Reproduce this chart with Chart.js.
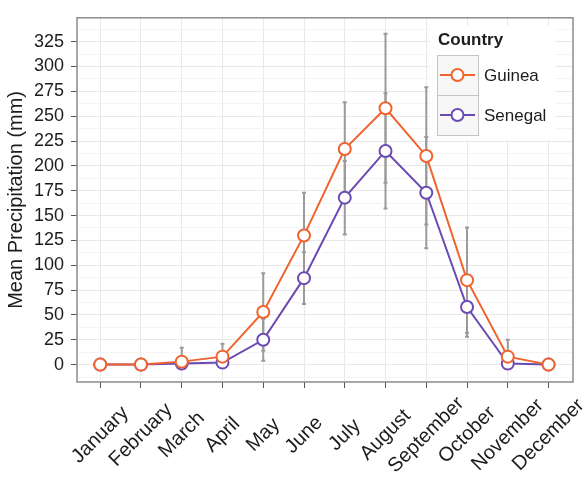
<!DOCTYPE html>
<html lang="en">
<head>
<meta charset="UTF-8">
<title>Mean Precipitation by Month</title>
<script src="https://cdn.jsdelivr.net/npm/chart.js"></script>
<style>
  body { margin: 0; background: #ffffff; }
  canvas { display: block; }
</style>
</head>
<body>
<canvas id="precipChart" width="585" height="479"></canvas>
<script>
// data
const months = ['January', 'February', 'March', 'April', 'May', 'June',
                'July', 'August', 'September', 'October', 'November', 'December'];
const guinea     = [0, 0, 3, 8, 53, 130, 217, 258, 210, 85, 8, 0];
const guineaErr  = [0, 0, 14, 13, 39, 43, 47, 75, 69, 53, 17, 0];
const senegal    = [0, 0, 1, 2, 25, 87, 168, 215, 173, 58, 1, 0];
const senegalErr = [0, 0, 1, 1, 21, 26, 37, 58, 56, 30, 2, 0];
const yMajor = [0, 25, 50, 75, 100, 125, 150, 175, 200, 225, 250, 275, 300, 325];

const GUINEA_COL = '#f0632e';
const SENEGAL_COL = '#6b4ab3';
const TEXT_COL = '#1c1c1c';
const FONT = "'Liberation Sans', Arial, sans-serif";

// major + minor (half-step) y ticks, like ggplot's grid
const yTicks = [];
yMajor.forEach(v => { yTicks.push(v - 12.5); yTicks.push(v); });
yTicks.push(337.5);

const toPts = arr => arr.map((v, i) => ({ x: i, y: v }));

// gray error bars behind the lines
const errorBars = {
    id: 'errorBars',
    beforeDatasetsDraw(chart) {
        const { ctx, scales: { x, y }, chartArea } = chart;
        const sets = [[guinea, guineaErr], [senegal, senegalErr]];
        ctx.save();
        ctx.beginPath();
        ctx.rect(chartArea.left, chartArea.top, chartArea.right - chartArea.left, chartArea.bottom - chartArea.top);
        ctx.clip();
        ctx.strokeStyle = '#9a9a9a';
        ctx.lineWidth = 2;
        sets.forEach(([vals, errs]) => {
            vals.forEach((v, i) => {
                if (!errs[i]) return;
                const px = x.getPixelForValue(i);
                const top = y.getPixelForValue(v + errs[i]);
                const bot = y.getPixelForValue(Math.max(v - errs[i], 0));
                ctx.beginPath();
                ctx.moveTo(px, top); ctx.lineTo(px, bot);
                ctx.moveTo(px - 2, top); ctx.lineTo(px + 2, top);
                ctx.moveTo(px - 2, bot); ctx.lineTo(px + 2, bot);
                ctx.stroke();
            });
        });
        ctx.restore();
    }
};

// month labels: rotated 45 deg and centred on the tick (ggplot hjust = 0.5)
const monthLabels = {
    id: 'monthLabels',
    afterDraw(chart) {
        const { ctx, scales: { x } } = chart;
        ctx.save();
        ctx.fillStyle = TEXT_COL;
        ctx.font = '20px ' + FONT;
        ctx.textAlign = 'center';
        ctx.textBaseline = 'middle';
        months.forEach((m, i) => {
            ctx.save();
            ctx.translate(x.getPixelForValue(i), 435);
            ctx.rotate(-Math.PI / 4);
            ctx.fillText(m, 0, 0);
            ctx.restore();
        });
        ctx.restore();
    }
};

// panel border + ggplot style legend inside the panel
const panelAndLegend = {
    id: 'panelAndLegend',
    afterDraw(chart) {
        const { ctx, chartArea: a } = chart;
        ctx.save();
        ctx.strokeStyle = '#8c8c8c';
        ctx.lineWidth = 1.5;
        ctx.strokeRect(a.left, a.top, a.right - a.left, a.bottom - a.top);

        // legend
        const lx = 430, ly = 26;
        ctx.fillStyle = '#ffffff';
        ctx.fillRect(lx, ly, 125, 114);
        ctx.fillStyle = TEXT_COL;
        ctx.font = 'bold 17px ' + FONT;
        ctx.textBaseline = 'middle';
        ctx.textAlign = 'left';
        ctx.fillText('Country', 438, 40);

        const items = [['Guinea', GUINEA_COL], ['Senegal', SENEGAL_COL]];
        items.forEach(([label, col], k) => {
            const kx = 437, ky = 55 + k * 40;
            ctx.fillStyle = '#f7f7f7';
            ctx.fillRect(kx, ky, 41, 40);
            ctx.strokeStyle = '#c4c4c4';
            ctx.lineWidth = 1;
            ctx.strokeRect(kx + 0.5, ky + 0.5, 41, 40);
            const cy = ky + 20;
            ctx.strokeStyle = col;
            ctx.lineWidth = 2;
            ctx.beginPath();
            ctx.moveTo(kx + 3, cy); ctx.lineTo(kx + 38, cy);
            ctx.stroke();
            ctx.beginPath();
            ctx.arc(kx + 20.5, cy, 6, 0, Math.PI * 2);
            ctx.fillStyle = '#ffffff';
            ctx.fill();
            ctx.stroke();
            ctx.fillStyle = TEXT_COL;
            ctx.font = '17px ' + FONT;
            ctx.fillText(label, 484, cy + 1);
        });
        ctx.restore();
    }
};

const ctx = document.getElementById('precipChart').getContext('2d');
new Chart(ctx, {
    type: 'line',
    data: {
        datasets: [
            {
                label: 'Guinea',
                data: toPts(guinea),
                borderColor: GUINEA_COL,
                backgroundColor: '#ffffff',
                pointBackgroundColor: '#ffffff',
                pointBorderColor: GUINEA_COL,
                borderWidth: 2,
                pointRadius: 6,
                pointBorderWidth: 2,
                tension: 0
            },
            {
                label: 'Senegal',
                data: toPts(senegal),
                borderColor: SENEGAL_COL,
                backgroundColor: '#ffffff',
                pointBackgroundColor: '#ffffff',
                pointBorderColor: SENEGAL_COL,
                borderWidth: 2,
                pointRadius: 6,
                pointBorderWidth: 2,
                tension: 0
            }
        ]
    },
    options: {
        responsive: false,
        animation: false,
        layout: { padding: { top: 5, right: 12, left: 0, bottom: 0 } },
        plugins: {
            legend: { display: false },
            tooltip: { enabled: false }
        },
        scales: {
            x: {
                type: 'linear',
                min: -0.57,
                max: 11.6,
                afterBuildTicks: s => { s.ticks = months.map((m, i) => ({ value: i })); },
                afterFit: s => { s.height = 97; },
                ticks: { display: false },
                grid: { color: '#e8e8e8', tickColor: '#555555', tickLength: 6, lineWidth: 1 },
                border: { display: false }
            },
            y: {
                min: -17.5,
                max: 349,
                afterBuildTicks: s => { s.ticks = yTicks.map(v => ({ value: v })); },
                afterFit: s => { s.width = 77; },
                ticks: {
                    autoSkip: false,
                    padding: 7,
                    color: TEXT_COL,
                    font: { family: FONT, size: 18 },
                    callback: v => (v % 25 === 0 ? String(v) : '')
                },
                grid: {
                    color: c => (c.tick && c.tick.value % 25 === 0 ? '#e8e8e8' : '#f4f4f4'),
                    tickColor: c => (c.tick && c.tick.value % 25 === 0 ? '#555555' : 'rgba(0,0,0,0)'),
                    tickLength: 6,
                    lineWidth: 1
                },
                border: { display: false },
                title: {
                    display: true,
                    text: 'Mean Precipitation (mm)',
                    color: TEXT_COL,
                    font: { family: FONT, size: 20 },
                    padding: { top: 4, bottom: 2 }
                }
            }
        }
    },
    plugins: [errorBars, monthLabels, panelAndLegend]
});
</script>
</body>
</html>
